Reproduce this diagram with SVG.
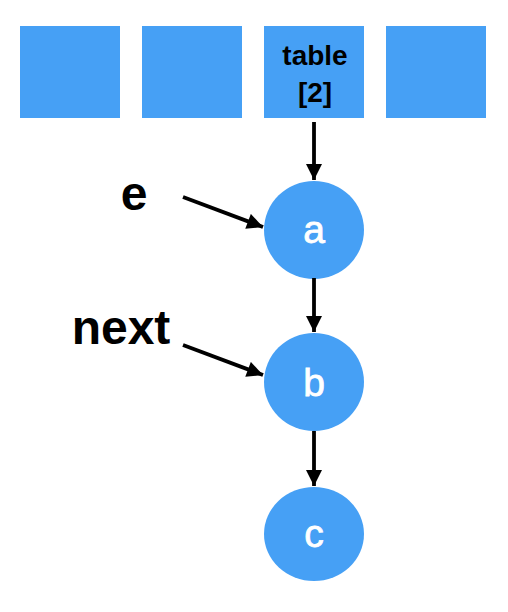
<svg xmlns="http://www.w3.org/2000/svg" width="508" height="612" viewBox="0 0 508 612">
<defs>
<style>
.cell{fill:#46a0f5}
.node{fill:#46a0f5}
.lbl{font-family:"Liberation Sans",Arial,sans-serif;font-weight:bold;fill:#000}
.in{font-family:"Liberation Sans",Arial,sans-serif;fill:#fff;font-size:39px;text-anchor:middle;stroke:#fff;stroke-width:0.8}
.edge{stroke:#000;stroke-width:3.8;fill:none;marker-end:url(#ah)}
</style>
<marker id="ah" viewBox="0 0 10 10" refX="10" refY="5" markerWidth="4.8" markerHeight="4.2" orient="auto" markerUnits="strokeWidth">
<path d="M0,0 L10,5 L0,10 z" fill="#000"/>
</marker>
</defs>
<rect width="508" height="612" fill="#fff"/>
<g id="cell0"><rect class="cell" x="20" y="26" width="100" height="92"/></g>
<g id="cell1"><rect class="cell" x="142" y="26" width="100" height="92"/></g>
<g id="cell2"><rect class="cell" x="264" y="26" width="100" height="92"/>
<text class="lbl" x="315" y="65" font-size="28" text-anchor="middle">table</text>
<text class="lbl" x="315" y="102" font-size="28" text-anchor="middle">[2]</text></g>
<g id="cell3"><rect class="cell" x="386" y="26" width="100" height="92"/></g>
<g id="node-a"><ellipse class="node" cx="314" cy="230" rx="50" ry="49"/><text class="in" x="314" y="243">a</text></g>
<g id="node-b"><ellipse class="node" cx="314" cy="382" rx="50" ry="49"/><text class="in" x="314" y="396">b</text></g>
<g id="node-c"><ellipse class="node" cx="314" cy="534" rx="50" ry="47"/><text class="in" x="314" y="547">c</text></g>
<g id="label-e"><text class="lbl" x="134" y="210" font-size="48" text-anchor="middle">e</text></g>
<g id="label-next"><text class="lbl" x="121" y="344" font-size="48" text-anchor="middle">next</text></g>
<g id="connectors">
<line class="edge" x1="314" y1="122" x2="314" y2="180"/>
<line class="edge" x1="314" y1="278" x2="314" y2="332"/>
<line class="edge" x1="314" y1="431" x2="314" y2="486"/>
<line class="edge" x1="183" y1="197" x2="263" y2="227"/>
<line class="edge" x1="183" y1="345" x2="263" y2="375"/>
</g>
</svg>
